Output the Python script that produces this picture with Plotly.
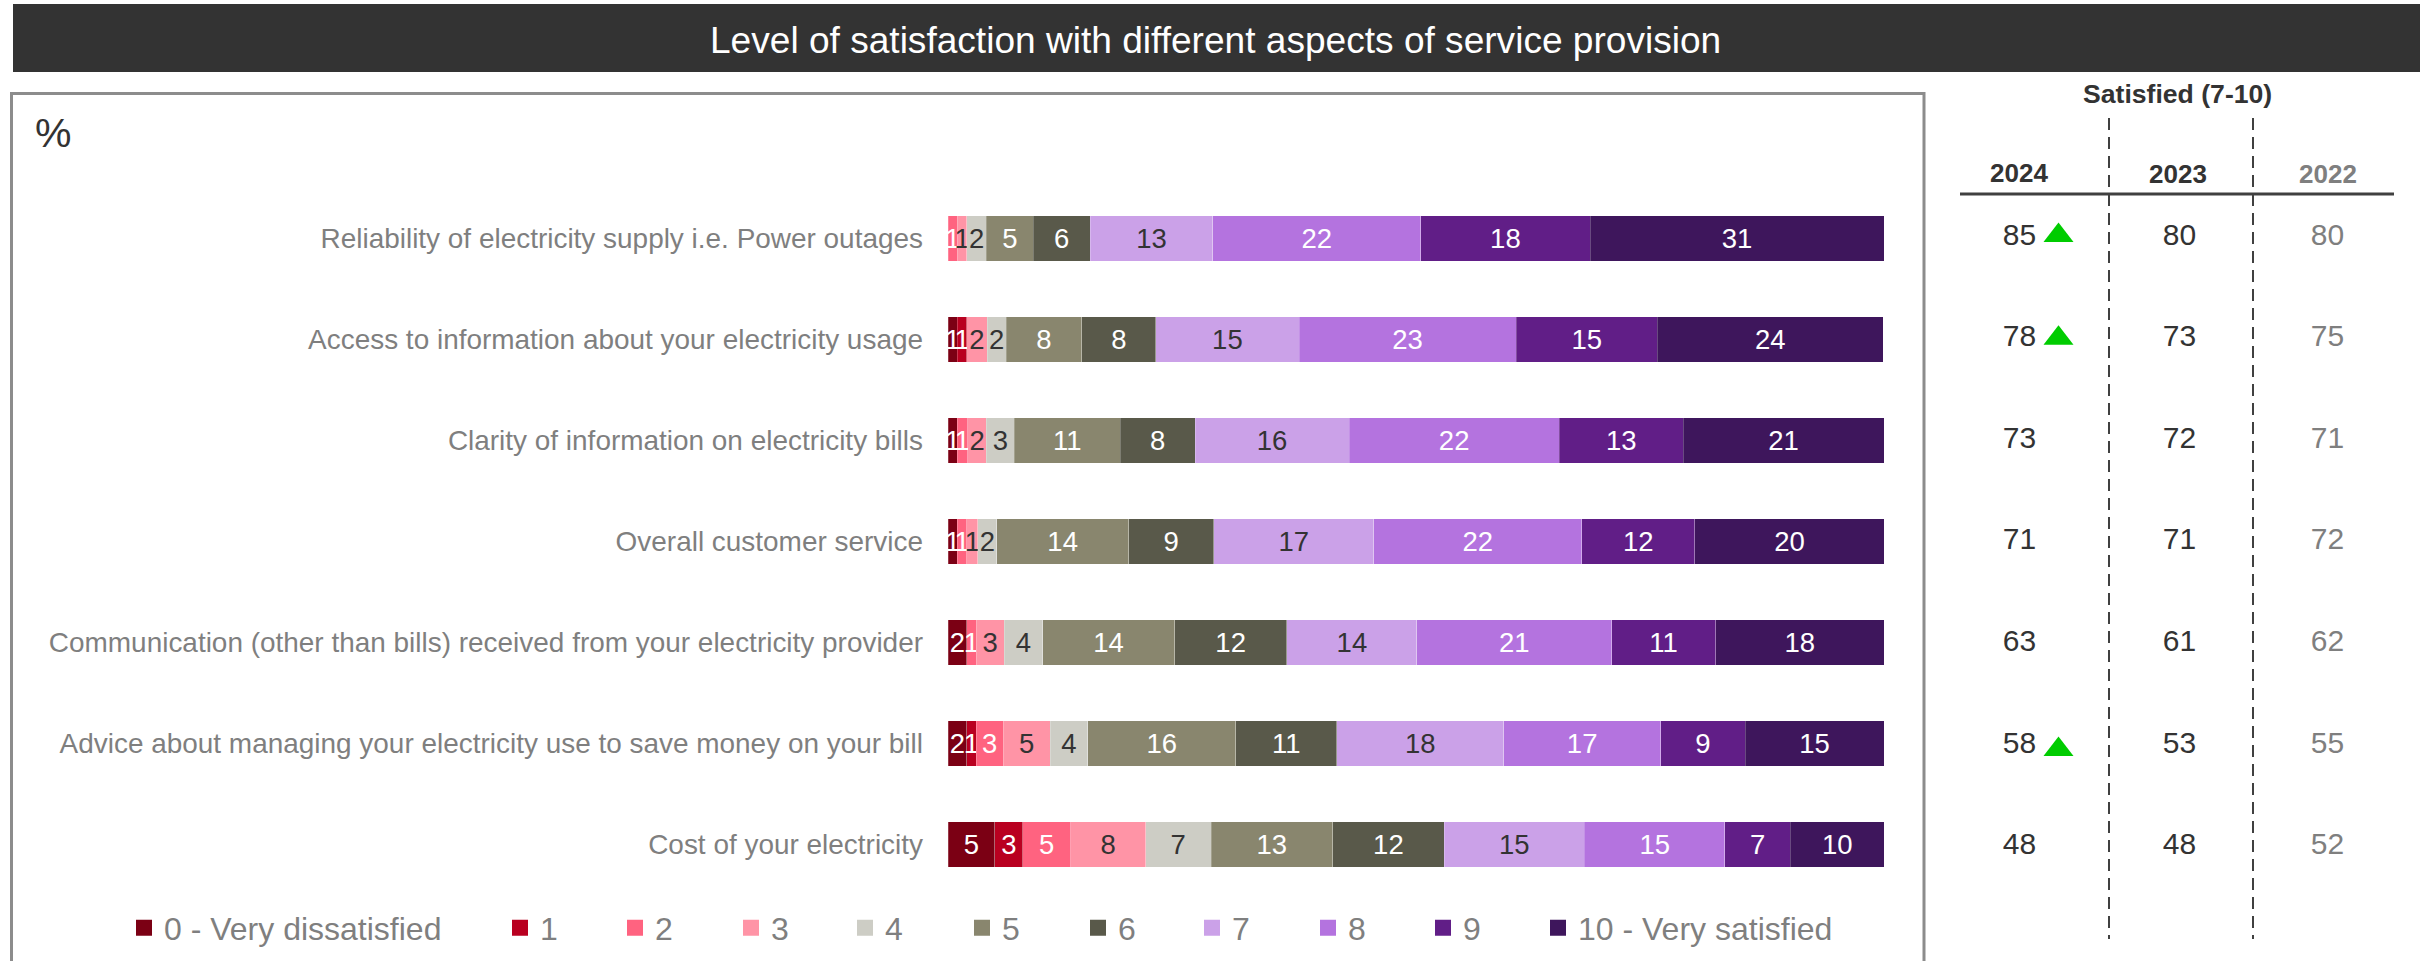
import plotly.graph_objects as go

W, H = 2433, 961
FONT = "Liberation Sans"

categories = [
    "Reliability of electricity supply i.e. Power outages",
    "Access to information about your electricity usage",
    "Clarity of information on electricity bills",
    "Overall customer service",
    "Communication (other than bills) received from your electricity provider",
    "Advice about managing your electricity use to save money on your bill",
    "Cost of your electricity",
]
series_names = ["0 - Very dissatisfied", "1", "2", "3", "4", "5", "6", "7", "8", "9", "10 - Very satisfied"]
s0 = [None, 1.0, 1.0, 1.0, 2.0, 2.0, 5.0]
s1 = [None, 1.0, None, None, None, 1.0, 3.0]
s2 = [1.0, None, 1.1, 1.0, 1.0, 2.9, 5.1]
s3 = [1.0, 2.2, 2.0, 1.2, 3.0, 5.0, 8.0]
s4 = [2.1, 2.0, 3.0, 2.0, 4.1, 4.05, 7.0]
s5 = [5.0, 8.1, 11.3, 14.1, 14.1, 15.8, 13.0]
s6 = [6.1, 7.9, 8.0, 9.1, 12.0, 10.8, 11.9]
s7 = [13.1, 15.3, 16.45, 17.1, 13.9, 17.8, 15.0]
s8 = [22.2, 23.2, 22.45, 22.2, 20.8, 16.8, 15.0]
s9 = [18.1, 15.1, 13.25, 12.1, 11.1, 9.0, 7.0]
s10 = [31.4, 24.1, 21.45, 20.2, 18.0, 14.85, 10.0]
all_series = [s0, s1, s2, s3, s4, s5, s6, s7, s8, s9, s10]

colors = ["#7B0014", "#B90020", "#FF6380", "#FF94A6", "#CDCDC5", "#89866E",
          "#59594A", "#CBA1E8", "#B473DF", "#611E87", "#3E165C"]
label_colors = ["#FFFFFF", "#FFFFFF", "#FFFFFF", "#333333", "#333333", "#FFFFFF",
                "#FFFFFF", "#333333", "#FFFFFF", "#FFFFFF", "#FFFFFF"]

years = ["2024", "2023", "2022"]
sat_2024 = [85, 78, 73, 71, 63, 58, 48]
sat_2023 = [80, 73, 72, 71, 61, 53, 48]
sat_2022 = [80, 75, 71, 72, 62, 55, 52]
significant_up = [categories[0], categories[1], categories[5]]


def px_x(p):
    return p / W


def px_y(p):
    return 1 - p / H


fig = go.Figure()

# Stacked bars
for name, vals, col, lab in zip(series_names, all_series, colors, label_colors):
    fig.add_trace(go.Bar(
        y=categories, x=vals, orientation="h", name=name, legendgroup=name, showlegend=False,
        marker=dict(color=col, line=dict(width=0.75, color="rgba(255,255,255,0.3)")),
        texttemplate="%{x:.0f}", textposition="inside", insidetextanchor="middle",
        textangle=0, constraintext="none", cliponaxis=False,
        textfont=dict(family=FONT, size=27.5, color=lab), hoverinfo="skip",
        xaxis="x", yaxis="y",
    ))

# Legend entries, each in its own legend so that the spacing matches
legend_left = [138, 514, 629, 745, 859, 976, 1092, 1206, 1322, 1437, 1552]
legend_layout = {}
for i, (name, col, left) in enumerate(zip(series_names, colors, legend_left)):
    key = "legend" if i == 0 else f"legend{i + 1}"
    fig.add_trace(go.Scatter(
        x=[None], y=[None], mode="markers", name=name, legendgroup=name, legend=key,
        marker=dict(symbol="square", size=16, color=col, line=dict(width=0)),
        xaxis="x", yaxis="y", hoverinfo="skip",
    ))
    legend_layout[key] = dict(
        x=px_x(left + 8 - 20 - 2), xanchor="left", y=px_y(928), yanchor="middle",
        bgcolor="rgba(0,0,0,0)", borderwidth=0, itemwidth=30,
        font=dict(family=FONT, size=32, color="#7F7F7F"),
    )

# Right-hand table columns
col_specs = [("x2", sat_2024, years[0], "#333333"),
             ("x3", sat_2023, years[1], "#333333"),
             ("x4", sat_2022, years[2], "#7F7F7F")]
for ax, vals, yr, col in col_specs:
    fig.add_trace(go.Scatter(
        x=[yr] * len(categories), y=categories, text=[str(v) for v in vals], mode="text",
        textposition="middle center", textfont=dict(family=FONT, size=30, color=col),
        xaxis=ax, yaxis="y2", showlegend=False, hoverinfo="skip", cliponaxis=False,
    ))
fig.add_trace(go.Scatter(
    x=[years[0]] * len(significant_up), y=significant_up, mode="markers",
    marker=dict(symbol="triangle-up", size=26, color="#00CC00", line=dict(width=0)),
    xaxis="x5", yaxis="y3", showlegend=False, hoverinfo="skip", cliponaxis=False,
))

shapes = [
    dict(type="rect", xref="paper", yref="paper", x0=px_x(13), x1=px_x(2420), y0=px_y(4), y1=px_y(72),
         fillcolor="#333333", line=dict(width=0), layer="below"),
    dict(type="rect", xref="paper", yref="paper", x0=px_x(11.5), x1=px_x(1924), y0=px_y(93.5), y1=px_y(975),
         fillcolor="rgba(0,0,0,0)", line=dict(color="#8C8C8C", width=3), layer="below"),
    dict(type="line", xref="paper", yref="paper", x0=px_x(1960), x1=px_x(2394), y0=px_y(194), y1=px_y(194),
         line=dict(color="#404040", width=3)),
]
for xp in (2109, 2253):
    shapes.append(dict(type="line", xref="paper", yref="paper", x0=px_x(xp), x1=px_x(xp), y0=px_y(118), y1=px_y(939),
                       line=dict(color="#404040", width=2, dash="12px,7px")))

annotations = [
    dict(text="Level of satisfaction with different aspects of service provision", x=px_x(1215), y=px_y(40),
         font=dict(family=FONT, size=37.1, color="#FFFFFF")),
    dict(text="%", x=px_x(53), y=px_y(133), font=dict(family=FONT, size=41, color="#333333")),
    dict(text="<b>Satisfied (7-10)</b>", x=px_x(2177), y=px_y(94), font=dict(family=FONT, size=26.6, color="#333333")),
    dict(text="<b>%s</b>" % years[0], x=px_x(2019), y=px_y(173), font=dict(family=FONT, size=26, color="#333333")),
    dict(text="<b>%s</b>" % years[1], x=px_x(2178), y=px_y(174), font=dict(family=FONT, size=26, color="#333333")),
    dict(text="<b>%s</b>" % years[2], x=px_x(2328), y=px_y(174), font=dict(family=FONT, size=26, color="#7F7F7F")),
]
for a in annotations:
    a.update(xref="paper", yref="paper", xanchor="center", yanchor="middle", showarrow=False)


def col_axis(center, half=70):
    return dict(domain=[px_x(center - half), px_x(center + half)], visible=False, range=[-0.5, 0.5],
                anchor="y2", fixedrange=True, type="category")


def row_axis(top, bottom, anchor):
    return dict(domain=[px_y(bottom), px_y(top)], type="category", categoryorder="array", categoryarray=categories,
                range=[6.5, -0.5], visible=False, anchor=anchor, fixedrange=True)


fig.update_layout(
    width=W, height=H, margin=dict(l=0, r=0, t=0, b=0), autosize=False,
    paper_bgcolor="white", plot_bgcolor="rgba(0,0,0,0)",
    barmode="stack", bargap=0.545, font=dict(family=FONT),
    xaxis=dict(domain=[px_x(948), px_x(1884)], range=[0, 100], visible=False, fixedrange=True, anchor="y"),
    yaxis=dict(domain=[px_y(895), px_y(188)], type="category", categoryorder="array", categoryarray=categories,
               range=[6.5, -0.5], showgrid=False, zeroline=False, showline=False, ticks="",
               ticklabelstandoff=24, tickfont=dict(family=FONT, size=27.95, color="#7F7F7F"),
               anchor="x", automargin=False, fixedrange=True),
    yaxis2=row_axis(186.2, 897.8, "x2"),
    yaxis3=row_axis(184.1, 903.7, "x5"),
    xaxis2=col_axis(2019.5), xaxis3=col_axis(2179.5), xaxis4=col_axis(2327.5), xaxis5=col_axis(2058.5, 30),
    shapes=shapes, annotations=annotations,
    **legend_layout,
)
fig.layout.xaxis5.anchor = "y3"

fig.write_html("out.html", config=dict(displayModeBar=False), post_script="document.body.style.margin='0';")
